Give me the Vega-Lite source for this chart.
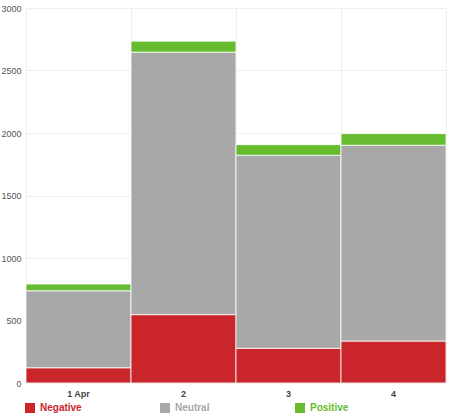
{
  "$schema": "https://vega.github.io/schema/vega-lite/v6.json",
  "width": 420,
  "height": 375,
  "autosize": {"type": "none"},
  "padding": {"left": 26, "top": 8, "right": 8, "bottom": 35},
  "background": "white",
  "config": {
    "view": {"stroke": "#eeeeee"},
    "font": "Liberation Sans"
  },
  "data": {
    "values": [
      {"day": "1 Apr", "series": "Negative", "count": 122},
      {"day": "1 Apr", "series": "Neutral", "count": 616},
      {"day": "1 Apr", "series": "Positive", "count": 54},
      {"day": "2", "series": "Negative", "count": 547},
      {"day": "2", "series": "Neutral", "count": 2100},
      {"day": "2", "series": "Positive", "count": 88},
      {"day": "3", "series": "Negative", "count": 278},
      {"day": "3", "series": "Neutral", "count": 1544},
      {"day": "3", "series": "Positive", "count": 85},
      {"day": "4", "series": "Negative", "count": 336},
      {"day": "4", "series": "Neutral", "count": 1566},
      {"day": "4", "series": "Positive", "count": 93}
    ]
  },
  "mark": {"type": "bar", "stroke": "white", "strokeWidth": 1, "strokeOpacity": 0.8},
  "encoding": {
    "x": {
      "field": "day",
      "type": "nominal",
      "sort": null,
      "title": null,
      "scale": {"paddingInner": 0, "paddingOuter": 0},
      "axis": {
        "labelAngle": 0,
        "labelFontWeight": "bold",
        "labelFontSize": 9,
        "labelColor": "#444",
        "labelPadding": 6,
        "domain": false,
        "ticks": false,
        "grid": true,
        "bandPosition": 0,
        "gridColor": "#eeeeee"
      }
    },
    "y": {
      "field": "count",
      "type": "quantitative",
      "aggregate": "sum",
      "stack": "zero",
      "title": null,
      "scale": {"domain": [0, 3000]},
      "axis": {
        "values": [0, 500, 1000, 1500, 2000, 2500, 3000],
        "format": "d",
        "labelFontSize": 9,
        "labelColor": "#555",
        "labelPadding": 5,
        "domain": false,
        "ticks": false,
        "gridColor": "#eeeeee"
      }
    },
    "color": {
      "field": "series",
      "type": "nominal",
      "title": null,
      "scale": {
        "domain": ["Negative", "Neutral", "Positive"],
        "range": ["#c9252b", "#a8a8a8", "#66bb2f"]
      },
      "legend": {
        "orient": "none",
        "legendX": -1,
        "legendY": 395,
        "direction": "horizontal",
        "columns": 3,
        "gridAlign": "all",
        "columnPadding": 78,
        "symbolType": "square",
        "symbolSize": 100,
        "symbolStrokeWidth": 0,
        "symbolOpacity": 1,
        "labelFontSize": 10,
        "labelFontWeight": "bold",
        "labelOffset": 5,
        "labelColor": {"expr": "scale('color', datum.value)"}
      }
    },
    "order": {"field": "series", "sort": "ascending"}
  }
}
